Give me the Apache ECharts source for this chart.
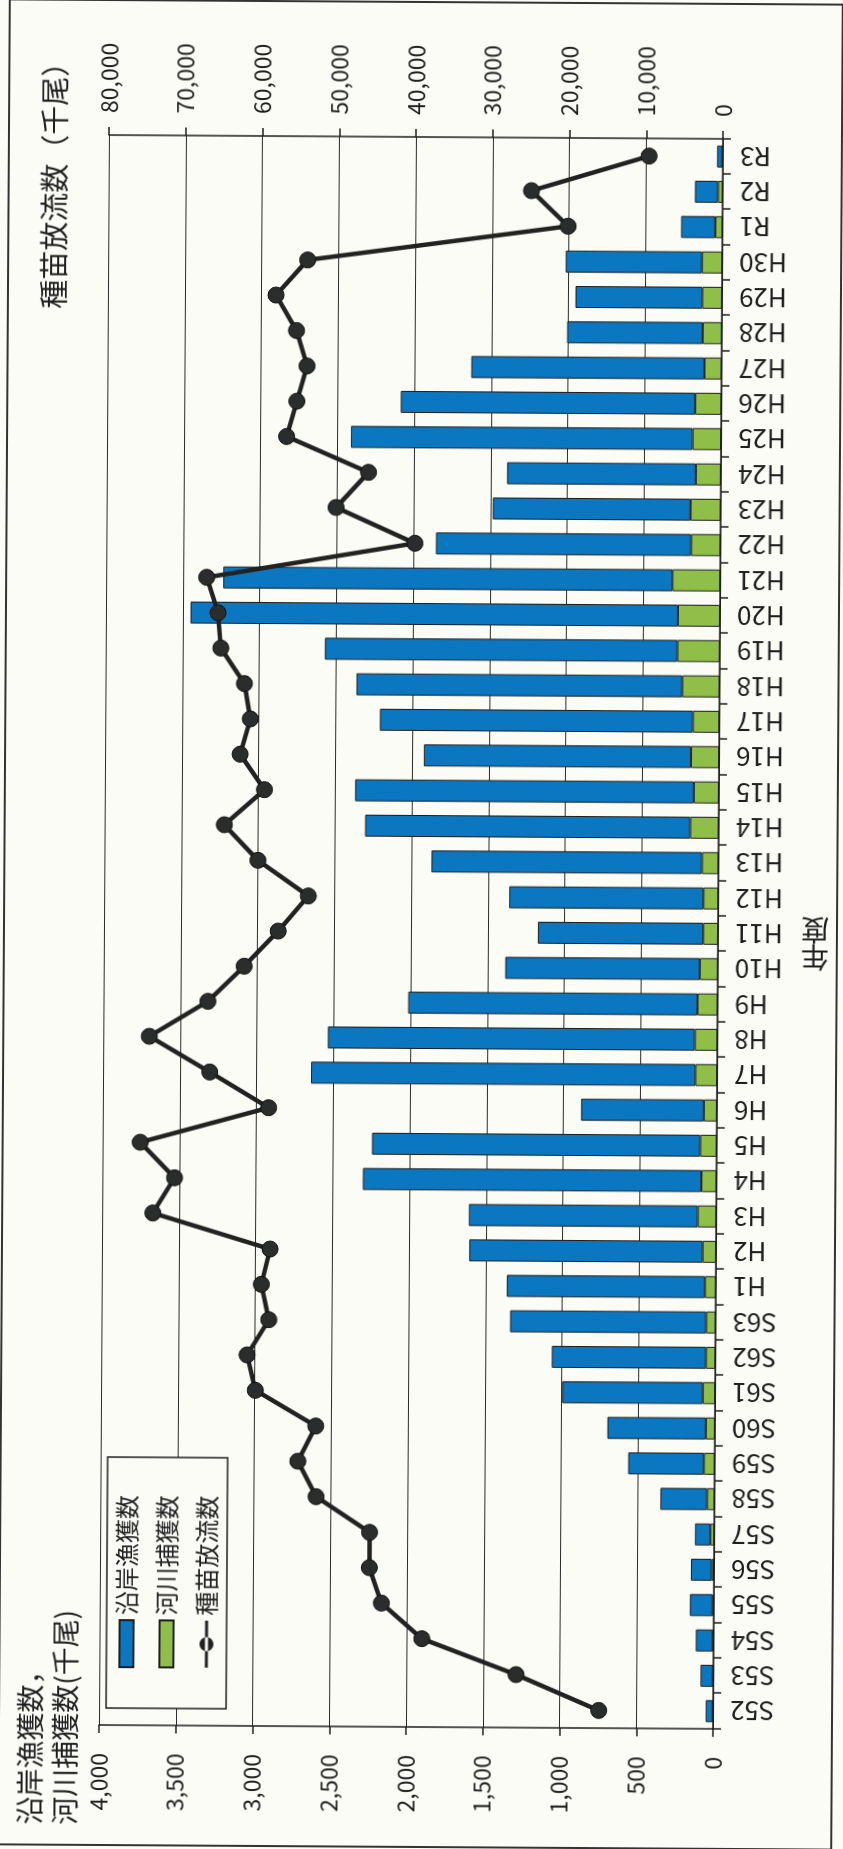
<!DOCTYPE html>
<html>
<head>
<meta charset="utf-8">
<script src="https://cdn.jsdelivr.net/npm/echarts@6/dist/echarts.min.js"></script>
<style>
  html, body { margin: 0; padding: 0; background: #fcfcf7; overflow: hidden; }
  body { width: 843px; height: 1849px; position: relative; }
  /* the scanned page is the chart turned a quarter turn to the left, slightly skewed */
  #chart {
    position: absolute; left: -503px; top: 503px;
    width: 1849px; height: 843px;
    transform: rotate(-89.64deg);
  }
</style>
</head>
<body>
<div id="chart"></div>
<script>
var years = ['S52','S53','S54','S55','S56','S57','S58','S59','S60','S61','S62','S63',
  'H1','H2','H3','H4','H5','H6','H7','H8','H9','H10','H11','H12','H13','H14','H15',
  'H16','H17','H18','H19','H20','H21','H22','H23','H24','H25','H26','H27','H28','H29','H30',
  'R1','R2','R3'];

// 沿岸漁獲数 (千尾)
var coastal = [46, 81, 110, 147, 135, 100, 304, 493, 641, 915, 1004, 1277,
  1291, 1520, 1491, 2205, 2138, 799, 2504, 2391, 1885, 1267, 1077, 1265, 1762, 2118, 2206,
  1740, 2039, 2122, 2296, 3175, 2926, 1662, 1288, 1229, 2226, 1918, 1519, 883, 826, 887,
  223, 150, 34];

// 河川捕獲数 (千尾)
var river = [2, 2, 5, 8, 15, 25, 48, 70, 59, 80, 61, 61,
  70, 87, 120, 98, 107, 85, 141, 146, 130, 117, 96, 96, 107, 185, 163,
  183, 172, 243, 276, 274, 311, 191, 196, 163, 185, 170, 111, 124, 128, 132,
  46, 30, 3];

// 種苗放流数 (千尾)
var released = [14900, 25700, 38000, 43300, 44900, 44900, 51900, 54300, 52000, 59900, 61000, 58200,
  59200, 58100, 73400, 70600, 75100, 58400, 66100, 74000, 66400, 61700, 57300, 53400, 60000, 64400, 59200,
  62400, 61100, 61900, 65000, 65400, 66900, 39800, 50100, 45900, 56600, 55300, 54000, 55400, 58100, 54000,
  20100, 24900, 9600];

var catchAxis = [0, 4000, 500];      // min, max, step
var releaseAxis = [0, 80000, 10000];

var ink = '#1e1e1e';
var bg = '#fcfcf7';
var blue = '#0b77c0';
var green = '#8fbf48';
var font = "'Noto Sans CJK JP', 'Noto Sans', sans-serif";
// legend mark for the line: a bar with a dot in the middle
var lineIcon = 'path://M0,6L47,6L47,9L0,9Z M16.5,7.5A7,7 0 1,0 30.5,7.5A7,7 0 1,0 16.5,7.5Z';

function commas(v) { return String(v).replace(/\B(?=(\d{3})+(?!\d))/g, ','); }

var chart = echarts.init(document.getElementById('chart'), null, { renderer: 'canvas' });
chart.setOption({
  animation: false,
  backgroundColor: bg,
  textStyle: { fontFamily: font, color: ink },
  grid: { left: 122, right: 137, top: 104, bottom: 125 },
  legend: {
    orient: 'vertical',
    left: 139, top: 111,
    padding: [8, 38, 8, 40],
    itemGap: 16,
    itemWidth: 47, itemHeight: 14,
    backgroundColor: bg,
    borderColor: ink, borderWidth: 1.5,
    data: [
      { name: '沿岸漁獲数', icon: 'rect' },
      { name: '河川捕獲数', icon: 'rect' },
      { name: '種苗放流数', icon: lineIcon, itemStyle: { color: '#222', borderWidth: 0 } }
    ],
    textStyle: { fontSize: 24, color: ink, fontFamily: font }
  },
  xAxis: {
    type: 'category',
    data: years,
    boundaryGap: true,
    axisLine: { lineStyle: { color: ink, width: 1.5 } },
    axisTick: { show: true, length: 8, lineStyle: { color: ink, width: 1.5 } },
    axisLabel: { rotate: 90, interval: 0, margin: 17, fontSize: 26, color: ink, fontFamily: font }
  },
  yAxis: [
    {
      type: 'value', position: 'left',
      min: catchAxis[0], max: catchAxis[1], interval: catchAxis[2],
      axisLine: { show: true, lineStyle: { color: ink, width: 1.5 } },
      axisTick: { show: true, length: 8, lineStyle: { color: ink, width: 1.5 } },
      axisLabel: { margin: 28, fontSize: 23, color: ink, fontFamily: font, formatter: commas },
      splitLine: { show: true, lineStyle: { color: '#2a2a2a', width: 1.2 } }
    },
    {
      type: 'value', position: 'right',
      min: releaseAxis[0], max: releaseAxis[1], interval: releaseAxis[2],
      axisLine: { show: true, lineStyle: { color: ink, width: 1.5 } },
      axisTick: { show: true, length: 8, lineStyle: { color: ink, width: 1.5 } },
      axisLabel: { margin: 22, fontSize: 23, color: ink, fontFamily: font, formatter: commas },
      splitLine: { show: false }
    }
  ],
  series: [
    {
      name: '河川捕獲数', type: 'bar', stack: 'catch', yAxisIndex: 0,
      barWidth: 22, data: river,
      itemStyle: { color: green, borderColor: ink, borderWidth: 1 }
    },
    {
      name: '沿岸漁獲数', type: 'bar', stack: 'catch', yAxisIndex: 0,
      barWidth: 22, data: coastal,
      itemStyle: { color: blue, borderColor: ink, borderWidth: 1 }
    },
    {
      name: '種苗放流数', type: 'line', yAxisIndex: 1, z: 5,
      data: released,
      symbol: 'circle', symbolSize: 16,
      lineStyle: { color: '#222', width: 4.5 },
      itemStyle: { color: '#2a2d2c', borderColor: '#111', borderWidth: 1 }
    }
  ],
  graphic: [
    { type: 'rect', shape: { x: 2, y: 4, width: 1845, height: 833 },
      style: { fill: null, stroke: '#333', lineWidth: 2 }, silent: true },
    { type: 'text', x: 1799, y: 50,
      style: { text: '種苗放流数（千尾）', font: '29px ' + font, fill: ink, textAlign: 'right', textVerticalAlign: 'middle' } },
    { type: 'text', x: 22, y: 35,
      style: { text: '沿岸漁獲数，', font: '28px ' + font, fill: ink, textAlign: 'left', textVerticalAlign: 'middle' } },
    { type: 'text', x: 22, y: 70,
      style: { text: '河川捕獲数(千尾)', font: '28px ' + font, fill: ink, textAlign: 'left', textVerticalAlign: 'middle' } },
    { type: 'text', x: 894, y: 815, rotation: Math.PI / 2,
      style: { text: '年', font: '28px ' + font, fill: ink, textAlign: 'center', textVerticalAlign: 'middle' } },
    { type: 'text', x: 921, y: 815, rotation: Math.PI / 2,
      style: { text: '度', font: '28px ' + font, fill: ink, textAlign: 'center', textVerticalAlign: 'middle' } }
  ]
});
</script>
</body>
</html>
